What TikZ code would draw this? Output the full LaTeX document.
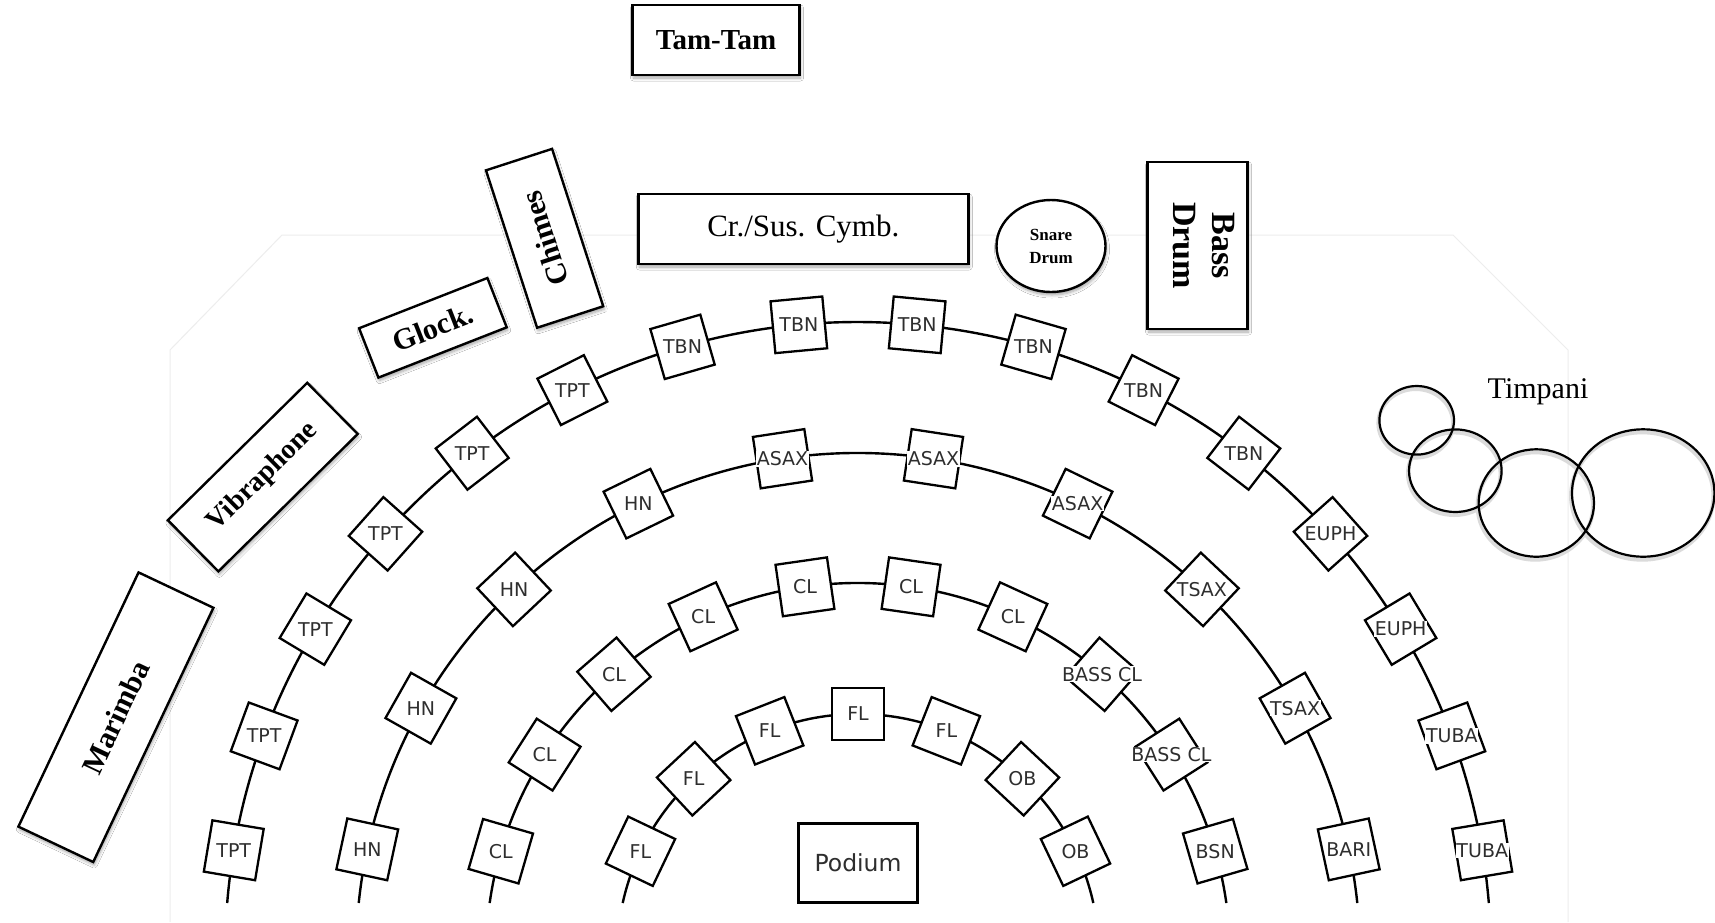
\documentclass[tikz,border=0pt]{standalone}
\usepackage{fontspec}
\setmainfont{Liberation Serif}
\newfontfamily\seatfont{DejaVu Sans}
\usetikzlibrary{calc,shapes.geometric,shadows.blur}

\begin{document}
\begin{tikzpicture}[x=1pt, y=1pt,
  seat/.style={rectangle, draw=black, line width=2.3pt, fill=white, minimum size=52pt, inner sep=0pt},
  seatlabel/.style={font=\seatfont\fontsize{19}{22}\selectfont, text=black!82, inner sep=0.6pt, fill=white},
  perc/.style={draw=black, line width=2.4pt, fill=white, inner sep=0pt, align=center,
    blur shadow={shadow xshift=1pt, shadow yshift=-3pt, shadow opacity=35, shadow blur steps=6, shadow blur radius=3pt}},
  ring/.style={line width=2.4pt},
  timp/.style={ellipse, draw=black, line width=2.2pt, inner sep=0pt},
  timpshadow/.style={ellipse, draw=black!14, line width=4pt, inner sep=0pt},
  faint/.style={draw=black!7, line width=1pt}
]
\useasboundingbox (0,0) rectangle (1715,-922);
\fill[white] (0,0) rectangle (1715,-922);

% faint stage outline
\coordinate (f1) at (170,-922);
\coordinate (f2) at (170,-350);
\coordinate (f3) at (282,-235);
\coordinate (f4) at (1453,-235);
\coordinate (f5) at (1568,-350);
\coordinate (f6) at (1568,-922);
\draw[faint] (f1) -- (f2) -- (f3) -- (f4) -- (f5) -- (f6);

% centre of the rows
\coordinate (C) at (858,-955);

% arcs
\coordinate (a1s) at ($(C)+(175.288:633)$);
\coordinate (a2s) at ($(C)+(174.054:502)$);
\coordinate (a3s) at ($(C)+(171.965:372)$);
\coordinate (a4s) at ($(C)+(167.54:241)$);
\draw[ring] (a1s) arc[start angle=175.288, end angle=4.712, radius=633];
\draw[ring] (a2s) arc[start angle=174.054, end angle=5.946, radius=502];
\draw[ring] (a3s) arc[start angle=171.965, end angle=8.035, radius=372];
\draw[ring] (a4s) arc[start angle=167.54, end angle=12.46, radius=241];

% outer row
\foreach \lab [count=\k from 0] in {TPT,TPT,TPT,TPT,TPT,TPT,TBN,TBN,TBN,TBN,TBN,TBN,EUPH,EUPH,TUBA,TUBA}{
  \pgfmathsetmacro\th{170.475-\k*10.73}
  \node[seat, rotate=\th-90] (o\k) at ($(C)+(\th:633)$) {};
  \node[seatlabel] (ol\k) at (o\k) {\lab};
}
% second row
\foreach \lab [count=\k from 0] in {HN,HN,HN,HN,ASAX,ASAX,ASAX,TSAX,TSAX,BARI}{
  \pgfmathsetmacro\th{167.85-\k*17.3}
  \node[seat, rotate=\th-90] (s\k) at ($(C)+(\th:502)$) {};
  \node[seatlabel] (sl\k) at (s\k) {\lab};
}
% third row
\foreach \lab [count=\k from 0] in {CL,CL,CL,CL,CL,CL,CL,BASS CL,BASS CL,BSN}{
  \pgfmathsetmacro\th{163.8-\k*16.4}
  \node[seat, rotate=\th-90] (t\k) at ($(C)+(\th:372)$) {};
  \node[seatlabel] (tl\k) at (t\k) {\lab};
}
% inner row
\foreach \lab [count=\k from 0] in {FL,FL,FL,FL,FL,OB,OB}{
  \pgfmathsetmacro\th{154.5-\k*21.5}
  \node[seat, rotate=\th-90] (i\k) at ($(C)+(\th:241)$) {};
  \node[seatlabel] (il\k) at (i\k) {\lab};
}

% podium
\node[draw=black, line width=2.3pt, minimum width=119pt, minimum height=79pt, inner sep=0pt,
      font=\seatfont\fontsize{23.5}{28}\selectfont, text=black!82] (podium) at (858,-863) {Podium};

% percussion
\node[perc, minimum width=167pt, minimum height=70pt, font=\bfseries\fontsize{29}{34}\selectfont] (tamtam) at (716,-40) {Tam-Tam};
\node[perc, minimum width=330pt, minimum height=70pt, font=\fontsize{31}{36}\selectfont] (cymb) at (803.3,-229) {Cr./Sus. Cymb.};
\node[perc, ellipse, minimum width=109pt, minimum height=92pt, font=\bfseries\fontsize{17}{23}\selectfont] (snare) at (1051,-246) {Snare\\Drum};
\node[perc, minimum width=100pt, minimum height=167pt] (bassbox) at (1197.6,-245.5) {};
\node[rotate=-90, align=center, inner sep=0pt, font=\bfseries\fontsize{34}{39}\selectfont] (bass) at (1204,-245.5) {Bass\\Drum};
\node[perc, rotate=108, minimum width=165.5pt, minimum height=69.5pt, font=\bfseries\fontsize{30}{36}\selectfont] (chimes) at (544.6,-238.3) {Chimes};
\node[perc, rotate=21.4, minimum width=137.8pt, minimum height=53pt, font=\bfseries\fontsize{30}{36}\selectfont] (glock) at (432.9,-327.8) {Glock.};
\node[perc, rotate=44.6, minimum width=195.7pt, minimum height=71.9pt, font=\bfseries\fontsize{28}{33}\selectfont] (vib) at (262.8,-477.1) {Vibraphone};
\node[perc, rotate=64.7, minimum width=281.2pt, minimum height=82.8pt, font=\bfseries\fontsize{30}{36}\selectfont] (marimba) at (115.9,-717.2) {Marimba};

% timpani
\foreach \n/\x/\y/\w/\h in {ta/1416.7/-420.3/74.6/68.6, tb/1455.3/-470.7/92.6/82.6, tc/1536.3/-503/115.4/107.4, td/1643.2/-493/142.4/127.4}{
  \node[timpshadow, minimum width=\w pt, minimum height=\h pt] (\n s) at (\x-1,\y-3) {};
}
\foreach \n/\x/\y/\w/\h in {ta/1416.7/-420.3/74.6/68.6, tb/1455.3/-470.7/92.6/82.6, tc/1536.3/-503/115.4/107.4, td/1643.2/-493/142.4/127.4}{
  \node[timp, minimum width=\w pt, minimum height=\h pt] (\n) at (\x,\y) {};
}
\node[inner sep=0pt, font=\fontsize{30}{36}\selectfont] (timpani) at (1538,-391.5) {Timpani};
\end{tikzpicture}
\end{document}
